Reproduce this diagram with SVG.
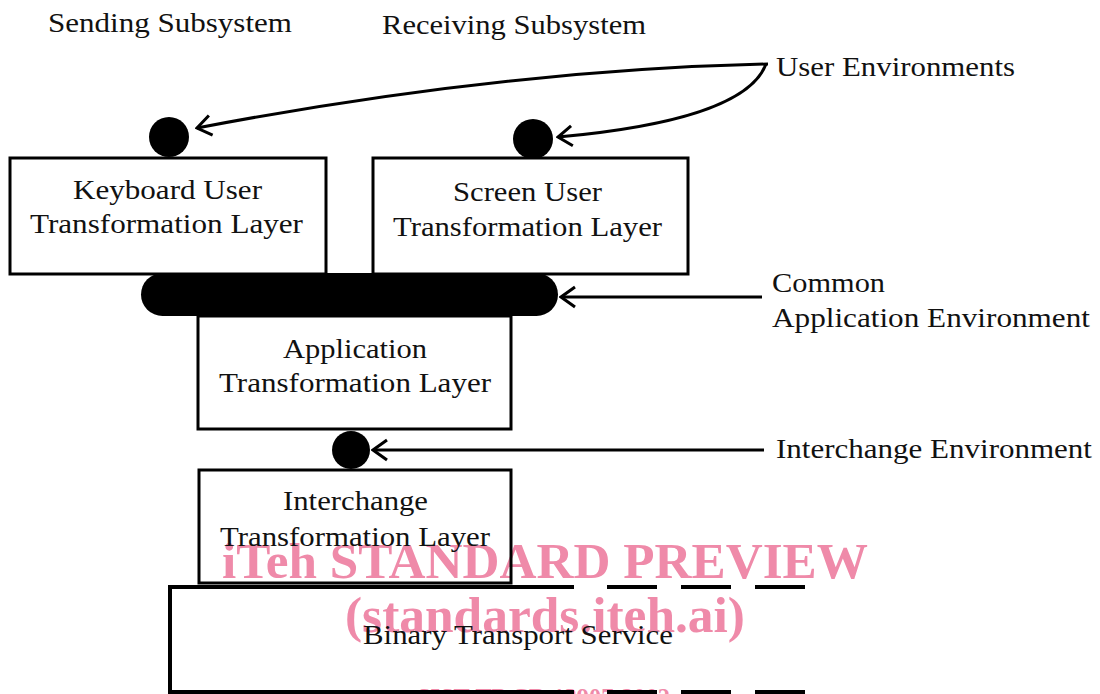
<svg xmlns="http://www.w3.org/2000/svg" width="1100" height="694" viewBox="0 0 1100 694">
  <style>
    .lbl { font-family: "Liberation Serif", "Times New Roman", serif; font-size: 27px; fill: #111; }
    .box { fill: none; stroke: #000; stroke-width: 3; }
    .conn { fill: none; stroke: #000; stroke-width: 3; }
    .mark { font-family: "Liberation Serif", "Times New Roman", serif; font-weight: bold; fill: #ef8aa9; }
  </style>
  <defs>
    <marker id="chev" viewBox="-16 -12 18 24" refX="0" refY="0" markerWidth="18" markerHeight="24" markerUnits="userSpaceOnUse" orient="auto">
      <path d="M -14 -10 L 0 0 L -14 10" fill="none" stroke="#000" stroke-width="3"/>
    </marker>
  </defs>

  <rect width="1100" height="694" fill="#fff"/>

  <!-- publisher watermark -->
  <g id="watermark">
    <text class="mark" x="222" y="578" font-size="51" textLength="646" lengthAdjust="spacingAndGlyphs">iTeh STANDARD PREVIEW</text>
    <text class="mark" x="345" y="632" font-size="51" textLength="400" lengthAdjust="spacingAndGlyphs">(standards.iteh.ai)</text>
    <text class="mark" x="417" y="706" font-size="26" font-weight="normal" textLength="253" lengthAdjust="spacingAndGlyphs">SIST-TP CR 13907:2002</text>
  </g>

  <!-- column headings -->
  <g id="headings">
    <text class="lbl" x="48" y="32" textLength="244" lengthAdjust="spacingAndGlyphs">Sending Subsystem</text>
    <text class="lbl" x="382" y="34" textLength="264" lengthAdjust="spacingAndGlyphs">Receiving Subsystem</text>
  </g>

  <!-- environment labels -->
  <g id="env-labels">
    <text class="lbl" x="776" y="76" textLength="239" lengthAdjust="spacingAndGlyphs">User Environments</text>
    <text class="lbl" x="772" y="292" textLength="113" lengthAdjust="spacingAndGlyphs">Common</text>
    <text class="lbl" x="772" y="327" textLength="318" lengthAdjust="spacingAndGlyphs">Application Environment</text>
    <text class="lbl" x="776" y="458" textLength="316" lengthAdjust="spacingAndGlyphs">Interchange Environment</text>
  </g>

  <!-- layer nodes -->
  <g id="keyboard-layer">
    <rect class="box" x="10" y="158" width="316" height="116"/>
    <text class="lbl" x="73" y="199" textLength="189" lengthAdjust="spacingAndGlyphs">Keyboard User</text>
    <text class="lbl" x="30" y="233" textLength="273" lengthAdjust="spacingAndGlyphs">Transformation Layer</text>
  </g>

  <g id="screen-layer">
    <rect class="box" x="373" y="158" width="315" height="116"/>
    <text class="lbl" x="453" y="201" textLength="149" lengthAdjust="spacingAndGlyphs">Screen User</text>
    <text class="lbl" x="393" y="236" textLength="269" lengthAdjust="spacingAndGlyphs">Transformation Layer</text>
  </g>

  <g id="application-layer">
    <rect class="box" x="198" y="316" width="313" height="113"/>
    <text class="lbl" x="283" y="358" textLength="144" lengthAdjust="spacingAndGlyphs">Application</text>
    <text class="lbl" x="219" y="392" textLength="272" lengthAdjust="spacingAndGlyphs">Transformation Layer</text>
  </g>

  <g id="interchange-layer">
    <rect class="box" x="199" y="470" width="312" height="113"/>
    <text class="lbl" x="283" y="510" textLength="145" lengthAdjust="spacingAndGlyphs">Interchange</text>
    <text class="lbl" x="220" y="546" textLength="270" lengthAdjust="spacingAndGlyphs">Transformation Layer</text>
  </g>

  <g id="binary-transport">
    <path d="M 574 587 L 170 587 L 170 692 L 574 692" fill="none" stroke="#000" stroke-width="4"/>
    <path d="M 607 587 H 657 M 681 587 H 731 M 755 587 H 805 M 607 692 H 657 M 681 692 H 731 M 755 692 H 805" fill="none" stroke="#000" stroke-width="4"/>
    <text class="lbl" x="363" y="644" textLength="310" lengthAdjust="spacingAndGlyphs">Binary Transport Service</text>
  </g>

  <!-- environment interfaces -->
  <g id="keyboard-interface">
    <circle cx="169" cy="137" r="20" fill="#000"/>
  </g>
  <g id="screen-interface">
    <circle cx="533" cy="139" r="20" fill="#000"/>
  </g>
  <g id="common-interface">
    <rect x="141" y="273" width="417" height="43" rx="21.5" fill="#000"/>
  </g>
  <g id="interchange-interface">
    <circle cx="351" cy="450" r="19" fill="#000"/>
  </g>

  <!-- connectors -->
  <g id="connectors">
    <path class="conn" d="M 768 64 Q 500 70 197 128" marker-end="url(#chev)"/>
    <path class="conn" d="M 766 64 Q 745 120 558 137" marker-end="url(#chev)"/>
    <path class="conn" d="M 762 297 L 561 297" marker-end="url(#chev)"/>
    <path class="conn" d="M 764 450 L 373 450" marker-end="url(#chev)"/>
  </g>
</svg>
